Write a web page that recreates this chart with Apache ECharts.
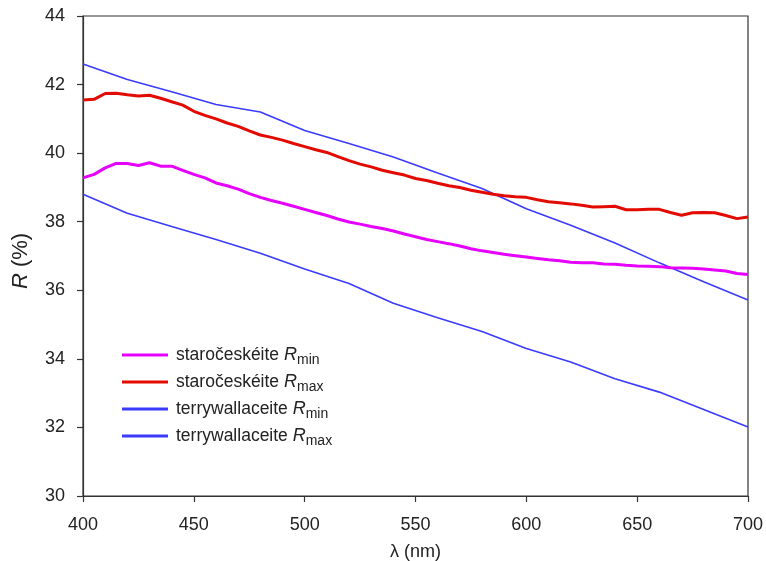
<!DOCTYPE html>
<html>
<head>
<meta charset="utf-8">
<script src="https://cdn.jsdelivr.net/npm/echarts@6/dist/echarts.min.js"></script>
<style>html,body{margin:0;padding:0;background:#fff}#c{width:766px;height:561px}</style>
</head>
<body>
<div id="c"></div>
<script>
// wavelengths (nm)
var wlFine = [400,405,410,415,420,425,430,435,440,445,450,455,460,465,470,475,480,485,490,495,500,505,510,515,520,525,530,535,540,545,550,555,560,565,570,575,580,585,590,595,600,605,610,615,620,625,630,635,640,645,650,655,660,665,670,675,680,685,690,695,700];
var wlCoarse = [400,420,440,460,480,500,520,540,560,580,600,620,640,660,680,700];
// staročeskéite R (%)
var starRmin = [39.28,39.38,39.57,39.70,39.70,39.64,39.72,39.62,39.62,39.50,39.38,39.28,39.13,39.05,38.95,38.82,38.71,38.62,38.54,38.45,38.36,38.27,38.18,38.08,37.99,37.93,37.86,37.80,37.73,37.64,37.56,37.48,37.42,37.36,37.29,37.21,37.15,37.10,37.05,37.01,36.97,36.93,36.89,36.86,36.82,36.80,36.80,36.77,36.76,36.73,36.71,36.70,36.69,36.66,36.65,36.64,36.62,36.59,36.56,36.49,36.46];
var starRmax = [41.55,41.57,41.74,41.75,41.70,41.67,41.69,41.60,41.50,41.40,41.22,41.10,41.00,40.88,40.78,40.65,40.53,40.46,40.38,40.28,40.19,40.10,40.02,39.90,39.78,39.68,39.60,39.50,39.43,39.36,39.26,39.20,39.12,39.05,39.00,38.92,38.86,38.80,38.76,38.73,38.71,38.64,38.58,38.55,38.52,38.48,38.43,38.44,38.45,38.35,38.35,38.36,38.36,38.27,38.19,38.26,38.27,38.26,38.18,38.09,38.14];
// terrywallaceite R (%)
var terryRmin = [38.80,38.25,37.86,37.48,37.08,36.62,36.20,35.62,35.20,34.80,34.30,33.91,33.42,33.03,32.52,32.01];
var terryRmax = [42.60,42.15,41.79,41.42,41.20,40.66,40.28,39.89,39.42,38.97,38.38,37.90,37.38,36.80,36.25,35.72];
var xTicks = [400,450,500,550,600,650,700];
var yTicks = [30,32,34,36,38,40,42,44];

function pairs(xs, ys){ return xs.map(function(x,i){ return [x, ys[i]]; }); }

var names = ['staročeskéite Rmin','staročeskéite Rmax','terrywallaceite Rmin','terrywallaceite Rmax'];
var colors = ['#e600ff','#e30b00','#3b3bff','#3b3bff'];
var widths = [3,3,1.6,1.6];
var sets = [[wlFine,starRmin],[wlFine,starRmax],[wlCoarse,terryRmin],[wlCoarse,terryRmax]];

var FONT = '"Liberation Sans", Arial, sans-serif';
var chart = echarts.init(document.getElementById('c'), null, {renderer:'canvas'});
chart.setOption({
  animation:false,
  backgroundColor:'#fff',
  grid:{left:83,right:18,top:16,bottom:65,containLabel:false,outerBoundsMode:'none',show:true,borderColor:'#333',borderWidth:1.2,backgroundColor:'transparent'},
  xAxis:{type:'value',min:xTicks[0],max:xTicks[xTicks.length-1],interval:50,
    name:'λ (nm)',nameLocation:'middle',nameGap:47,
    nameTextStyle:{fontFamily:FONT,fontSize:18,color:'#222'},
    axisLine:{lineStyle:{color:'#333',width:1.2}},
    axisTick:{inside:false,length:6,lineStyle:{color:'#333',width:1.2}},
    axisLabel:{fontFamily:FONT,fontSize:18,color:'#222',margin:20},
    splitLine:{show:false}},
  yAxis:{type:'value',min:yTicks[0],max:yTicks[yTicks.length-1],interval:2,
    name:'{i|R} (%)',nameLocation:'middle',nameGap:51,nameRotate:90,
    nameTextStyle:{fontFamily:FONT,fontSize:22,color:'#222',padding:[0,10,0,0],rich:{i:{fontFamily:FONT,fontSize:22,fontStyle:'italic',color:'#222'}}},
    axisLine:{lineStyle:{color:'#333',width:1.2}},
    axisTick:{inside:false,length:6,lineStyle:{color:'#333',width:1.2}},
    axisLabel:{fontFamily:FONT,fontSize:18,color:'#222',margin:18},
    splitLine:{show:false}},
  legend:{orient:'vertical',left:117,top:341,itemWidth:46,itemHeight:3,itemGap:6,
    data:names.map(function(n,i){return {name:n,icon:'rect',itemStyle:{color:colors[i]}};}),
    formatter:function(n){
      var p=n.split(' ');
      var sub=p[1].slice(1);
      return '{a|'+p[0]+' }{i|R}{s|'+sub+'}';
    },
    textStyle:{fontFamily:FONT,fontSize:18,color:'#222',padding:[0,0,0,3],
      rich:{a:{fontFamily:FONT,fontSize:17.5,color:'#222'},
            i:{fontFamily:FONT,fontSize:18,fontStyle:'italic',color:'#222'},
            s:{fontFamily:FONT,fontSize:14,color:'#222',verticalAlign:'bottom',padding:[0,0,-3,0]}}}},
  series:names.map(function(n,i){
    return {name:n,type:'line',data:pairs(sets[i][0],sets[i][1]),showSymbol:false,symbol:'none',
      lineStyle:{color:colors[i],width:widths[i]},itemStyle:{color:colors[i]},z:i<2?3:2};
  })
});
</script>
</body>
</html>
